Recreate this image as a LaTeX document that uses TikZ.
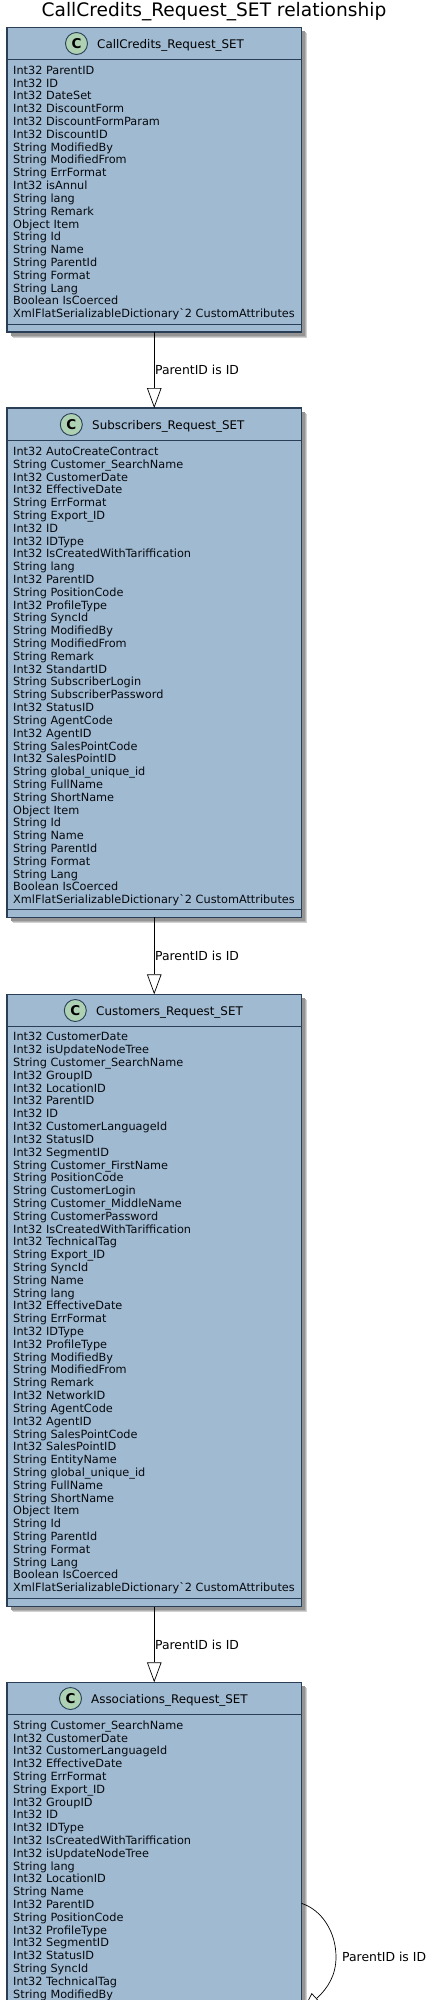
\documentclass[tikz,border=0pt]{standalone}
\usepackage{fontspec}
\setmainfont{DejaVu Sans}
\newfontfamily\plainface{DejaVu Sans}
\usetikzlibrary{arrows.meta,shadows}
\definecolor{classfill}{HTML}{A0BAD2}
\definecolor{classline}{HTML}{2A3F55}
\definecolor{spotfill}{HTML}{ADD1B2}
\newcommand{\custattr}{XmlFlatSerializableDictionary{\plainface\char96}2 CustomAttributes}
\tikzset{
  classbox/.style={draw=classline,fill=classfill,line width=1.1pt,anchor=north west,
    minimum width=294.5pt,inner sep=0pt,outer sep=0pt,
    general shadow={shadow xshift=5.5pt,shadow yshift=-5.5pt,fill=black!18,draw=none},
    general shadow={shadow xshift=4.5pt,shadow yshift=-4.5pt,fill=black!30,draw=none},
    general shadow={shadow xshift=3.5pt,shadow yshift=-3.5pt,fill=black!42,draw=none}},
  sepline/.style={draw=classline,line width=1pt},
  classspot/.style={circle,draw=classline,fill=spotfill,line width=0.9pt,minimum size=22pt,
    inner sep=0pt,font=\fontsize{13.5}{14}\selectfont\bfseries},
  classname/.style={anchor=west,inner sep=0pt,font=\fontsize{11.9}{14}\selectfont,text=black},
  attrlist/.style={anchor=north west,inner sep=0pt,align=left,text=black!85!classline,
    font=\fontsize{11.3}{12.81}\selectfont},
  relation/.style={draw=black,line width=0.7pt,-{Triangle[open,length=20pt,width=14.5pt,fill=white]}},
  rellabel/.style={inner sep=0pt,font=\fontsize{12.4}{14}\selectfont,text=black}
}
\begin{document}
\begin{tikzpicture}[x=1pt,y=-1pt]
\useasboundingbox (0,0) rectangle (440,2000);
\clip (0,0) rectangle (440,2000);
\node[font=\fontsize{18.6}{22}\selectfont,inner sep=0pt] (reltitle) at (214,12) {CallCredits\_Request\_SET relationship};
% CallCredits
\node[classbox,minimum height=304.5pt] (callcredits) at (7,27.5) {};
\draw[sepline] ([yshift=-32pt]callcredits.north west) -- ([yshift=-32pt]callcredits.north east);
\draw[sepline] ([yshift=8pt]callcredits.south west) -- ([yshift=8pt]callcredits.south east);
\node[classspot] (spotcc) at (76.5,43.5) {C};
\node[classname] (namecc) at (97,45) {CallCredits\_Request\_SET};
\node[attrlist] (attrcc) at (13,65.7) {Int32 ParentID\\Int32 ID\\Int32 DateSet\\Int32 DiscountForm\\Int32 DiscountFormParam\\Int32 DiscountID\\String ModifiedBy\\String ModifiedFrom\\String ErrFormat\\Int32 isAnnul\\String lang\\String Remark\\Object Item\\String Id\\String Name\\String ParentId\\String Format\\String Lang\\Boolean IsCoerced\\\custattr};
% Subscribers
\node[classbox,minimum height=509.4pt] (subscribers) at (7,408) {};
\draw[sepline] ([yshift=-32.2pt]subscribers.north west) -- ([yshift=-32.2pt]subscribers.north east);
\draw[sepline] ([yshift=8pt]subscribers.south west) -- ([yshift=8pt]subscribers.south east);
\node[classspot] (spotsub) at (71.3,424.5) {C};
\node[classname] (namesub) at (92,426) {Subscribers\_Request\_SET};
\node[attrlist] (attrsub) at (13,446.8) {Int32 AutoCreateContract\\String Customer\_SearchName\\Int32 CustomerDate\\Int32 EffectiveDate\\String ErrFormat\\String Export\_ID\\Int32 ID\\Int32 IDType\\Int32 IsCreatedWithTariffication\\String lang\\Int32 ParentID\\String PositionCode\\Int32 ProfileType\\String SyncId\\String ModifiedBy\\String ModifiedFrom\\String Remark\\Int32 StandartID\\String SubscriberLogin\\String SubscriberPassword\\Int32 StatusID\\String AgentCode\\Int32 AgentID\\String SalesPointCode\\Int32 SalesPointID\\String global\_unique\_id\\String FullName\\String ShortName\\Object Item\\String Id\\String Name\\String ParentId\\String Format\\String Lang\\Boolean IsCoerced\\\custattr};
% Customers
\node[classbox,minimum height=612.4pt] (customers) at (7,994.3) {};
\draw[sepline] ([yshift=-32.1pt]customers.north west) -- ([yshift=-32.1pt]customers.north east);
\draw[sepline] ([yshift=8pt]customers.south west) -- ([yshift=8pt]customers.south east);
\node[classspot] (spotcu) at (75.3,1010.5) {C};
\node[classname] (namecu) at (96,1012) {Customers\_Request\_SET};
\node[attrlist] (attrcu) at (13,1032.3) {Int32 CustomerDate\\Int32 isUpdateNodeTree\\String Customer\_SearchName\\Int32 GroupID\\Int32 LocationID\\Int32 ParentID\\Int32 ID\\Int32 CustomerLanguageId\\Int32 StatusID\\Int32 SegmentID\\String Customer\_FirstName\\String PositionCode\\String CustomerLogin\\String Customer\_MiddleName\\String CustomerPassword\\Int32 IsCreatedWithTariffication\\Int32 TechnicalTag\\String Export\_ID\\String SyncId\\String Name\\String lang\\Int32 EffectiveDate\\String ErrFormat\\Int32 IDType\\Int32 ProfileType\\String ModifiedBy\\String ModifiedFrom\\String Remark\\Int32 NetworkID\\String AgentCode\\Int32 AgentID\\String SalesPointCode\\Int32 SalesPointID\\String EntityName\\String global\_unique\_id\\String FullName\\String ShortName\\Object Item\\String Id\\String ParentId\\String Format\\String Lang\\Boolean IsCoerced\\\custattr};
% Associations, runs off the page
\node[classbox,minimum height=340pt] (associations) at (7,1682.3) {};
\draw[sepline] ([yshift=-31.7pt]associations.north west) -- ([yshift=-31.7pt]associations.north east);
\node[classspot] (spotas) at (70.5,1698.5) {C};
\node[classname] (nameas) at (91,1700) {Associations\_Request\_SET};
\node[attrlist] (attras) at (13,1720.4) {String Customer\_SearchName\\Int32 CustomerDate\\Int32 CustomerLanguageId\\Int32 EffectiveDate\\String ErrFormat\\String Export\_ID\\Int32 GroupID\\Int32 ID\\Int32 IDType\\Int32 IsCreatedWithTariffication\\Int32 isUpdateNodeTree\\String lang\\Int32 LocationID\\String Name\\Int32 ParentID\\String PositionCode\\Int32 ProfileType\\Int32 SegmentID\\Int32 StatusID\\String SyncId\\Int32 TechnicalTag\\String ModifiedBy};
% relations
\draw[relation] (callcredits.south) -- node[rellabel,anchor=west,xshift=0.5pt] (labcc) {ParentID is ID} (subscribers.north);
\draw[relation] (subscribers.south) -- node[rellabel,anchor=west,xshift=0.5pt] (labsub) {ParentID is ID} (customers.north);
\draw[relation] (customers.south) -- node[rellabel,anchor=west,xshift=0.5pt] (labcu) {ParentID is ID} (associations.north);
\coordinate (loopout) at (301.5,1903.3);
\coordinate (loopin) at (302,2012);
\draw[relation] (loopout) .. controls (322,1910) and (336,1932) .. (336,1957) .. controls (336,1975) and (328,1988) .. (loopin);
\node[rellabel,anchor=west] (labas) at (342,1957) {ParentID is ID};
\end{tikzpicture}
\end{document}
